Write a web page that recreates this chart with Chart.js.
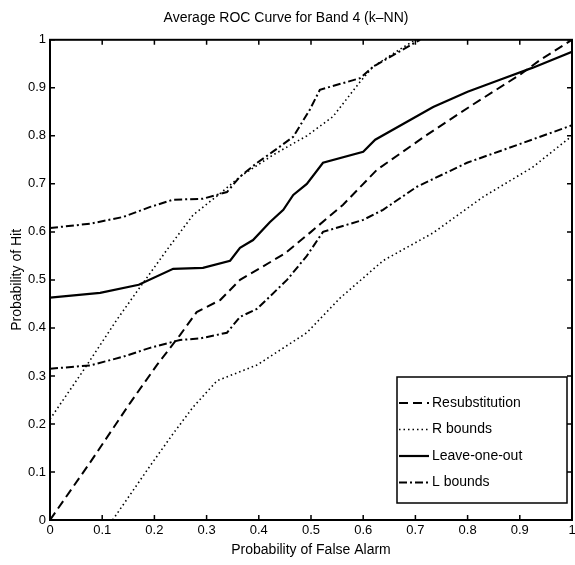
<!DOCTYPE html>
<html>
<head>
<meta charset="utf-8">
<script src="https://cdn.jsdelivr.net/npm/chart.js@4.4.0/dist/chart.umd.min.js"></script>
<style>
  body { margin: 0; background: #fff; }
  #wrap { width: 575px; height: 565px; }
</style>
</head>
<body>
<div id="wrap"><canvas id="roc"></canvas></div>
<script>
// values (x = false alarm, y = hit)
var resubX = [0, 0.077, 0.153, 0.205, 0.249, 0.281, 0.326, 0.364, 0.45, 0.5, 0.561, 0.626, 0.722, 0.81, 0.9, 0.939, 1.0];
var resubY = [0, 0.12, 0.243, 0.323, 0.385, 0.433, 0.458, 0.50, 0.555, 0.60, 0.656, 0.729, 0.802, 0.865, 0.927, 0.958, 1.0];

var rUpX = [0, 0.063, 0.128, 0.166, 0.224, 0.274, 0.326, 0.364, 0.427, 0.492, 0.542, 0.594, 0.619, 0.67, 0.70];
var rUpY = [0.21, 0.31, 0.417, 0.475, 0.5625, 0.635, 0.68, 0.715, 0.76, 0.80, 0.84, 0.9125, 0.944, 0.98, 1.0];
var rLowX = [0.12, 0.19, 0.236, 0.274, 0.32, 0.397, 0.492, 0.556, 0.638, 0.734, 0.83, 0.925, 1.0];
var rLowY = [0, 0.11, 0.18, 0.235, 0.29, 0.323, 0.39, 0.4625, 0.54, 0.598, 0.673, 0.735, 0.80];

var looX = [0, 0.096, 0.17, 0.236, 0.293, 0.345, 0.364, 0.389, 0.421, 0.447, 0.466, 0.492, 0.523, 0.60, 0.623, 0.734, 0.80, 0.862, 0.925, 1.0];
var looY = [0.463, 0.473, 0.49, 0.523, 0.525, 0.54, 0.567, 0.583, 0.62, 0.646, 0.677, 0.70, 0.744, 0.767, 0.792, 0.86, 0.892, 0.917, 0.942, 0.975];

var lUpX = [0, 0.077, 0.14, 0.192, 0.236, 0.293, 0.339, 0.364, 0.397, 0.427, 0.466, 0.498, 0.517, 0.594, 0.619, 0.665, 0.709];
var lUpY = [0.608, 0.617, 0.631, 0.652, 0.667, 0.669, 0.683, 0.715, 0.744, 0.767, 0.798, 0.855, 0.896, 0.92, 0.944, 0.973, 1.0];
var lLowX = [0, 0.077, 0.14, 0.19, 0.249, 0.287, 0.339, 0.364, 0.397, 0.454, 0.492, 0.523, 0.60, 0.638, 0.703, 0.799, 0.895, 1.0];
var lLowY = [0.315, 0.322, 0.34, 0.358, 0.375, 0.378, 0.39, 0.423, 0.44, 0.50, 0.55, 0.60, 0.625, 0.646, 0.694, 0.744, 0.781, 0.822];

var tickVals = [0, 0.1, 0.2, 0.3, 0.4, 0.5, 0.6, 0.7, 0.8, 0.9, 1];
var tickLabels = ['0', '0.1', '0.2', '0.3', '0.4', '0.5', '0.6', '0.7', '0.8', '0.9', '1'];

var FONT = '"Liberation Sans", Arial, sans-serif';
var DASHED = [9, 5], DOTTED = [1.5, 3], DASHDOT = [8, 3, 2, 3];

function pts(xs, ys) {
  return xs.map(function (x, i) { return { x: x, y: ys[i] }; });
}
function line(label, xs, ys, dash, w, inLegend) {
  return {
    label: label, data: pts(xs, ys), showLine: true, borderColor: '#000',
    borderWidth: w, borderDash: dash, pointRadius: 0, tension: 0,
    fill: false, inLegend: inLegend
  };
}

function tickLabel(v) {
  var i = tickVals.findIndex(function (t) { return Math.abs(t - v) < 1e-6; });
  return i >= 0 ? tickLabels[i] : '';
}

// MATLAB style box with inward ticks on all sides
var boxTicks = {
  id: 'boxTicks',
  afterDraw: function (chart) {
    var ctx = chart.ctx, a = chart.chartArea;
    var xs = chart.scales.x, ys = chart.scales.y, len = 5;
    ctx.save();
    ctx.strokeStyle = '#000';
    ctx.setLineDash([]);
    ctx.lineWidth = 1.5;
    ctx.beginPath();
    tickVals.forEach(function (v) {
      var px = xs.getPixelForValue(v), py = ys.getPixelForValue(v);
      ctx.moveTo(px, a.bottom); ctx.lineTo(px, a.bottom - len);
      ctx.moveTo(px, a.top); ctx.lineTo(px, a.top + len);
      ctx.moveTo(a.left, py); ctx.lineTo(a.left + len, py);
      ctx.moveTo(a.right, py); ctx.lineTo(a.right - len, py);
    });
    ctx.stroke();
    ctx.lineWidth = 2;
    ctx.strokeRect(a.left, a.top, a.right - a.left, a.bottom - a.top);

    // legend box inside lower right corner
    var bx = a.right - 175, by = a.bottom - 143, bw = 170, bh = 126;
    ctx.fillStyle = '#fff';
    ctx.fillRect(bx, by, bw, bh);
    ctx.lineWidth = 1.5;
    ctx.strokeRect(bx, by, bw, bh);
    ctx.font = '14px ' + FONT;
    ctx.textBaseline = 'middle';
    ctx.fillStyle = '#000';
    var items = chart.data.datasets.filter(function (d) { return d.inLegend; });
    items.forEach(function (d, i) {
      var y = by + 26 + i * 26.5;
      ctx.beginPath();
      ctx.setLineDash(d.borderDash);
      ctx.lineWidth = d.borderWidth;
      ctx.moveTo(bx + 2, y); ctx.lineTo(bx + 32, y);
      ctx.stroke();
      ctx.setLineDash([]);
      ctx.fillText(d.label, bx + 35, y);
    });
    ctx.restore();
  }
};

new Chart(document.getElementById('roc'), {
  type: 'scatter',
  data: {
    datasets: [
      line('Resubstitution', resubX, resubY, DASHED, 2, true),
      line('R bounds', rUpX, rUpY, DOTTED, 1.6, true),
      line('R bounds', rLowX, rLowY, DOTTED, 1.6, false),
      line('Leave-one-out', looX, looY, [], 2.2, true),
      line('L bounds', lUpX, lUpY, DASHDOT, 2, true),
      line('L bounds', lLowX, lLowY, DASHDOT, 2, false)
    ]
  },
  options: {
    responsive: true,
    maintainAspectRatio: false,
    animation: false,
    layout: { padding: { left: 0, right: 3, top: 0, bottom: 0 } },
    plugins: {
      legend: { display: false },
      tooltip: { enabled: false },
      title: {
        display: true,
        text: 'Average ROC Curve for Band 4 (k\u2013NN)',
        color: '#000',
        font: { family: FONT, size: 14, weight: 'normal' },
        padding: { top: 10, bottom: 13 }
      }
    },
    scales: {
      x: {
        type: 'linear', min: 0, max: 1,
        afterBuildTicks: function (s) { s.ticks = tickVals.map(function (v) { return { value: v }; }); },
        afterFit: function (s) { s.height = 45; s.paddingLeft = 0; s.paddingRight = 0; },
        grid: { display: false, drawTicks: false },
        border: { display: false },
        ticks: { color: '#000', font: { family: FONT, size: 13 }, padding: 3, maxRotation: 0, autoSkip: false, callback: tickLabel },
        title: { display: true, text: 'Probability of False Alarm', color: '#000', font: { family: FONT, size: 14 }, padding: { top: 2, bottom: 6 } }
      },
      y: {
        type: 'linear', min: 0, max: 1,
        afterBuildTicks: function (s) { s.ticks = tickVals.map(function (v) { return { value: v }; }); },
        afterFit: function (s) { s.width = 50; },
        grid: { display: false, drawTicks: false },
        border: { display: false },
        ticks: { color: '#000', font: { family: FONT, size: 13 }, padding: 4, autoSkip: false, callback: tickLabel },
        title: { display: true, text: 'Probability of Hit', color: '#000', font: { family: FONT, size: 14 }, padding: { top: 9, bottom: 2 } }
      }
    }
  },
  plugins: [boxTicks]
});
</script>
</body>
</html>
